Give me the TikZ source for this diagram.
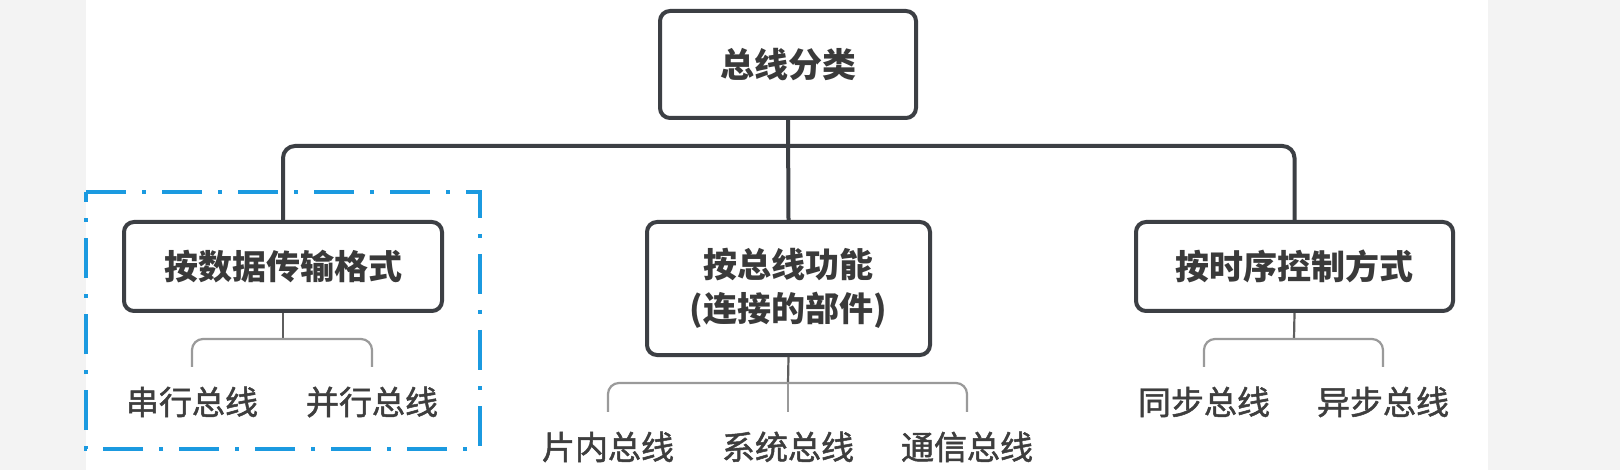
\documentclass[tikz,border=0pt]{standalone}
\usepackage{fontspec}
\newfontfamily\cjk[FakeBold=1.5]{Noto Sans CJK SC}
\newfontfamily\cjkbox{Noto Sans CJK SC}
\definecolor{bgside}{HTML}{F3F3F3}
\definecolor{boxline}{HTML}{3C3F44}
\definecolor{txt}{HTML}{3A3A3A}
\definecolor{leaftxt}{HTML}{3E3E3E}
\definecolor{stemc}{HTML}{5E5E5E}
\definecolor{bracketc}{HTML}{9A9A9A}
\definecolor{dashblue}{HTML}{1B9AE0}
\tikzset{
  catbox/.style={draw=boxline, line width=4pt, rounded corners=10pt, fill=white,
    inner sep=0pt, align=center, text=txt,
    font=\cjkbox\bfseries\fontsize{34}{44}\selectfont},
  leaf/.style={inner sep=0pt, minimum height=70pt, text height=25pt, text depth=0pt,
    text=leaftxt, font=\cjk\fontsize{33}{40}\selectfont},
  mainline/.style={draw=boxline, line width=4pt, rounded corners=12pt},
  stemline/.style={draw=stemc, line width=2.2pt},
  bracketline/.style={draw=bracketc, line width=2.2pt, rounded corners=11pt},
  groupframe/.style={draw=dashblue, line width=4pt, dash pattern=on 40pt off 16pt on 4pt off 16pt}
}
\begin{document}
\begin{tikzpicture}[x=1pt, y=-1pt]
\useasboundingbox (0,0) rectangle (1620,470);
\fill[bgside] (0,0) rectangle (1620,470);
\fill[white] (86,0) rectangle (1488,470);

% main boxes
\node[catbox, minimum width=256pt, minimum height=107pt] (T) at (788,64.5) {总线分类};
\node[catbox, minimum width=318pt, minimum height=89pt] (L) at (283,266.5) {按数据传输格式};
\node[catbox, minimum width=283pt, minimum height=133pt] (M) at (788.5,288.5) {按总线功能\\(连接的部件)};
\node[catbox, minimum width=317pt, minimum height=89pt] (R) at (1294.5,266.5) {按时序控制方式};

% main connectors
\coordinate (hub) at (788,146);
\draw[mainline] (L.north) |- (hub) -| (R.north);
\draw[mainline] (T.south) -- (M.north);

% leaves
\node[leaf] (l1) at (192,402) {串行总线};
\node[leaf] (l2) at (372,402) {并行总线};
\node[leaf] (m1) at (608,447) {片内总线};
\node[leaf] (m2) at (788,447) {系统总线};
\node[leaf] (m3) at (967,447) {通信总线};
\node[leaf] (r1) at (1204,402) {同步总线};
\node[leaf] (r2) at (1383,402) {异步总线};

% sub connectors
\coordinate (lb) at (283,339);
\coordinate (mb) at (788,383);
\coordinate (rb) at (1294,339);
\draw[stemline] (L.south) -- (lb);
\draw[bracketline] (l1.north) |- (lb) -| (l2.north);
\draw[stemline] (M.south) -- (mb);
\draw[bracketline] (m1.north) |- (mb) -| (m3.north);
\draw[bracketline] (mb) -- (m2.north);
\draw[stemline] (R.south) -- (rb);
\draw[bracketline] (r1.north) |- (rb) -| (r2.north);

% dash-dot group frame
\draw[groupframe] (86,192) -- (480,192) -- (480,449) -- (86,449) -- cycle;
\end{tikzpicture}
\end{document}
